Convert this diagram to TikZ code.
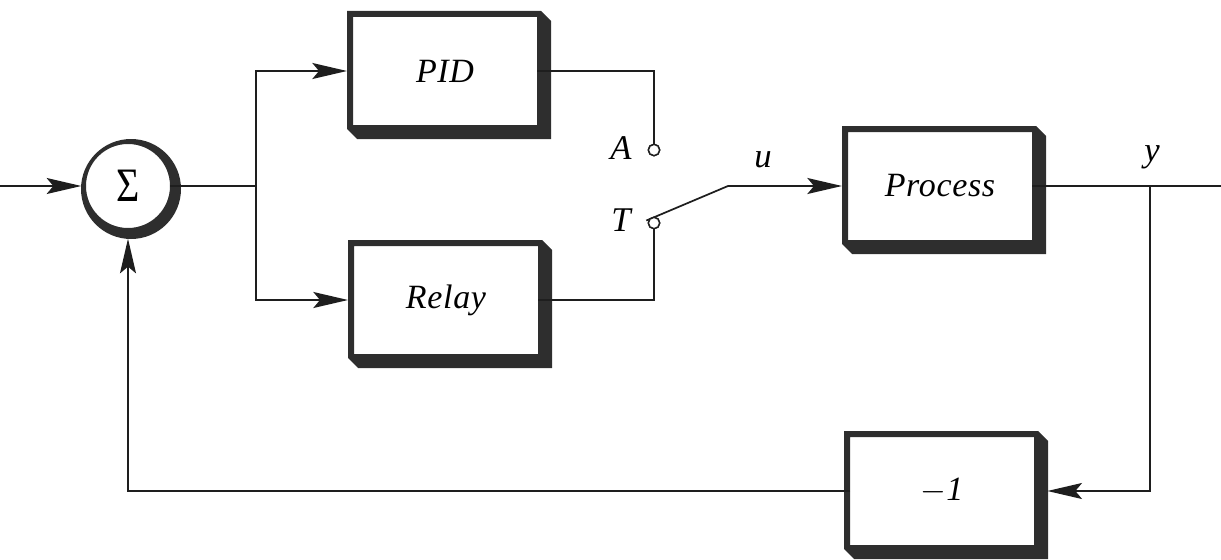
\documentclass[tikz,border=0pt]{standalone}
\usepackage{fontspec}
\setmainfont{Liberation Serif}[ItalicFont={Liberation Serif Italic}]
\usetikzlibrary{calc,arrows.meta}
\definecolor{framecol}{HTML}{2E2E2E}
\definecolor{linecol}{HTML}{1E1E1E}
\tikzset{
  blk/.style={draw=none, inner sep=0pt, outer sep=0pt, minimum width=138pt, minimum height=81pt,
    font=\fontsize{25.5}{30}\selectfont\itshape\addfontfeatures{LetterSpace=2}},
  sumnode/.style={circle, draw=none, inner sep=0pt, outer sep=0pt, minimum size=63pt},
  lbl/.style={font=\fontsize{26}{30}\selectfont\itshape, inner sep=0pt},
  term/.style={circle, draw=linecol, line width=1.1pt, fill=white, inner sep=0pt, minimum size=8.5pt, outer sep=0pt},
  wire/.style={draw=linecol, line width=1.3pt},
  arr/.style={wire, -{Stealth[length=26pt, width=12pt, inset=5pt]}},
}
\newcommand\blockframe[1]{%
  \fill[framecol, even odd rule]
    ($(#1.north west)+(-6,-6)$) -- ($(#1.north east)+(4,-6)$) -- ($(#1.north east)+(14,4)$)
    -- ($(#1.south east)+(14,14)$) -- ($(#1.south west)+(4,14)$) -- ($(#1.south west)+(-6,4)$) -- cycle
    (#1.north west) rectangle (#1.south east);}
\begin{document}
\begin{tikzpicture}[x=0.75pt,y=-0.75pt]
\useasboundingbox (0,0) rectangle (1221,560);
% nodes
\node[blk] (pid) at (445,71) {PID};
\node[blk] (relay) at (446,300) {Relay};
\node[blk] (proc) at (940,186) {Process};
\node[blk] (neg) at (942,491) {$-$1};
\node[sumnode] (sum) at (128,186) {\fontsize{30}{36}\selectfont\scalebox{1}[1.2]{Σ}};
% frames
\blockframe{pid}
\blockframe{relay}
\blockframe{proc}
\blockframe{neg}
\fill[framecol, even odd rule] (131,189) circle[radius=37.5pt] (sum.center) circle[radius=31.5pt];
% coordinates
\coordinate (in) at (0,186);
\coordinate (split) at (256,186);
\coordinate (sw) at (728,186);
\coordinate (out) at (1221,186);
\coordinate (yj) at (1150,186);
% connectors
\draw[arr, shorten >=3.5pt] (in) -- (sum.west);
\draw[wire] (sum.east) -- (split);
\draw[arr, shorten >=4.5pt] (split) |- (pid.west);
\draw[arr, shorten >=4.5pt] (split) |- (relay.west);
\node[term] (A) at (654,150) {};
\node[term] (T) at (654,223) {};
\draw[wire] (pid.east) -| (A.north);
\draw[wire] (relay.east) -| (T.south);
\draw[arr, shorten <=-3pt, shorten >=4.5pt] (T.north west) -- (sw) -- (proc.west);
\draw[wire] (proc.east) -- (out);
\draw[arr, shorten >=10pt] (yj) |- (neg.east);
\draw[arr, shorten >=8pt] (neg.west) -| (sum.south);
\node[term] at (A) {};
\node[term] at (T) {};
% labels
\node[lbl] (lA) at (621,148) {A};
\node[lbl] (lT) at (621,220) {T};
\node[lbl] (lu) at (763,160) {u};
\node[lbl] (ly) at (1152,157) {y};
\end{tikzpicture}
\end{document}
